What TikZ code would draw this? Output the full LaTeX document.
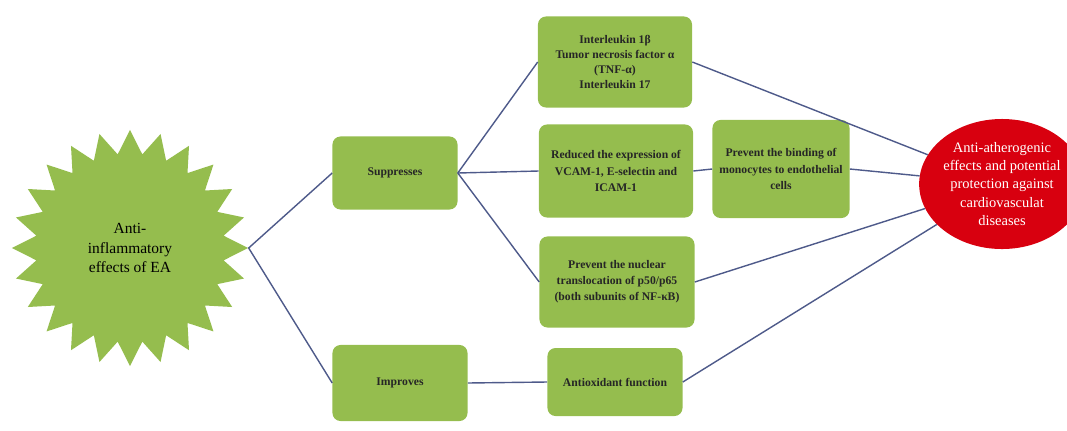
\documentclass[tikz,border=0pt]{standalone}
\usepackage{fontspec}
\setmainfont{Liberation Serif}
\usepackage{tikz}
\usetikzlibrary{shapes.geometric}
\definecolor{leafgreen}{HTML}{95BD4E}
\definecolor{linkblue}{HTML}{4E5A8A}
\definecolor{outred}{HTML}{D8000F}
\tikzstyle{effectbox} = [rectangle, rounded corners=0.2cm, fill=leafgreen, align=center, text=black!85, inner sep=2pt, font=\fontsize{8.3}{11.5}\selectfont\bfseries]
\tikzstyle{link} = [line width=1pt, draw=linkblue]

\begin{document}
\begin{tikzpicture}[x=0.025cm, y=-0.025cm]
        \useasboundingbox (0,0) rectangle (1067,430);
        \node (ea) [star, star points=24, star point ratio=1.25, minimum size=5.9cm, inner sep=0pt, fill=leafgreen, align=center, font=\fontsize{11}{14}\selectfont] at (130,248) {Anti-\\inflammatory\\effects of EA};
        \node (sup) [effectbox, minimum width=3.125cm, minimum height=1.825cm] at (395,173) {Suppresses};
        \node (imp) [effectbox, minimum width=3.375cm, minimum height=1.9cm] at (400,383) {Improves};
        \node (il) [effectbox, minimum width=3.85cm, minimum height=2.275cm, font=\fontsize{8.3}{10.5}\selectfont\bfseries] at (615,62) {Interleukin 1β\\Tumor necrosis factor α\\(TNF-α)\\Interleukin 17};
        \node (vcam) [effectbox, minimum width=3.85cm, minimum height=2.325cm] at (616,171) {Reduced the expression of\\VCAM-1, E-selectin and\\ICAM-1};
        \node (mono) [effectbox, minimum width=3.425cm, minimum height=2.45cm] at (781,169) {Prevent the binding of\\monocytes to endothelial\\cells};
        \node (nuc) [effectbox, minimum width=3.875cm, minimum height=2.275cm] at (617,282) {Prevent the nuclear\\translocation of p50/p65\\(both subunits of NF-κB)};
        \node (antiox) [effectbox, minimum width=3.375cm, minimum height=1.7cm] at (615,382) {Antioxidant function};
        \node (res) [ellipse, minimum width=3.35cm, minimum height=3.25cm, inner sep=0pt, fill=outred, text=white, align=center, font=\fontsize{10.3}{13}\selectfont] at (1002,184) {Anti-atherogenic\\effects and potential\\protection against\\cardiovasculat\\diseases};
        \draw [link] (sup.west) -- (ea.east) -- (imp.west);
        \draw [link] (sup.east) -- (il.west);
        \draw [link] (sup.east) -- (vcam.west);
        \draw [link] (sup.east) -- (nuc.west);
        \draw [link] (vcam.east) -- (mono.west);
        \draw [link] (imp.east) -- (antiox.west);
        \draw [link] (il.east) -- (res);
        \draw [link] (mono.east) -- (res);
        \draw [link] (nuc.east) -- (res);
        \draw [link] (antiox.east) -- (res);
    \end{tikzpicture}
\end{document}
